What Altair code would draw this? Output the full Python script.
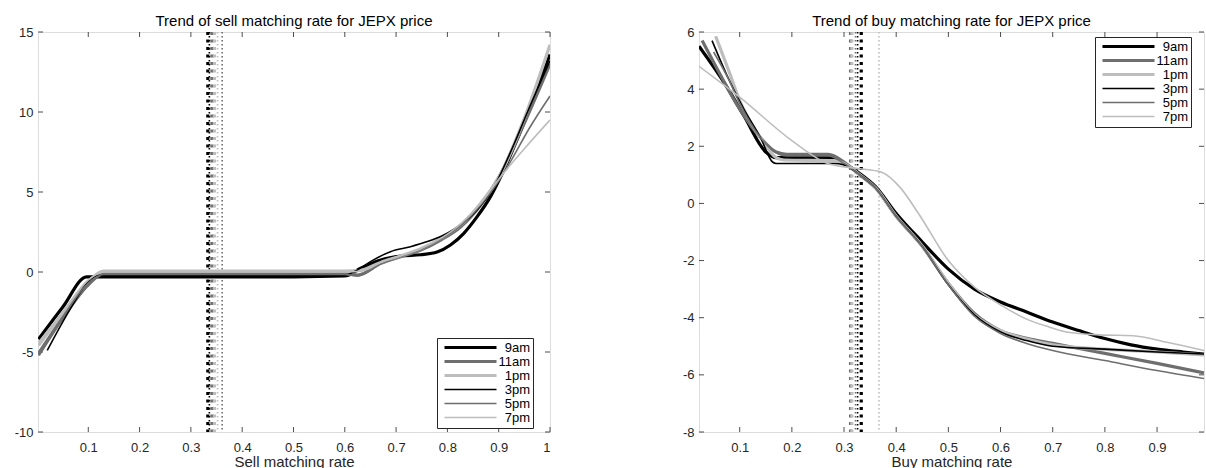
import altair as alt
import pandas as pd

SERIES = ["9am", "11am", "1pm", "3pm", "5pm", "7pm"]
COLORS = ["#000000", "#6e6e6e", "#bdbdbd", "#000000", "#6e6e6e", "#bdbdbd"]
WIDTHS = [3.2, 3.2, 3.2, 1.6, 1.6, 1.6]
DASHES = [[3, 4.5], [3, 4.5], [3, 4.5], [1.5, 2.5], [1.5, 2.5], [1.5, 2.5]]

# ---------------- Sell matching rate (left panel) ----------------
sell_x = {
    "9am": [0.003, 0.05, 0.097, 0.11, 0.3, 0.5, 0.6, 0.631, 0.67, 0.709, 0.748, 0.78, 0.806, 0.832, 0.858, 0.884, 0.91, 0.94, 0.97, 1.0],
    "11am": [0.003, 0.05, 0.1, 0.13, 0.3, 0.6, 0.625, 0.67, 0.709, 0.748, 0.787, 0.826, 0.865, 0.9, 0.95, 1.0],
    "1pm": [0.003, 0.05, 0.1, 0.13, 0.3, 0.6, 0.63, 0.67, 0.709, 0.748, 0.787, 0.826, 0.865, 0.9, 0.95, 1.0],
    "3pm": [0.02, 0.065, 0.1, 0.12, 0.3, 0.6, 0.62, 0.65, 0.689, 0.728, 0.761, 0.793, 0.826, 0.858, 0.891, 0.93, 0.96, 1.0],
    "5pm": [0.003, 0.05, 0.1, 0.13, 0.3, 0.6, 0.625, 0.67, 0.709, 0.748, 0.787, 0.826, 0.865, 0.9, 0.923, 0.96, 1.0],
    "7pm": [0.003, 0.05, 0.1, 0.13, 0.3, 0.6, 0.63, 0.67, 0.709, 0.748, 0.787, 0.826, 0.865, 0.9, 0.95, 1.0],
}
sell_y = {
    "9am": [-4.2, -2.2, -0.3, -0.3, -0.3, -0.3, -0.25, 0.23, 0.75, 1.0, 1.08, 1.25, 1.69, 2.42, 3.46, 4.71, 6.37, 8.6, 11.0, 13.6],
    "11am": [-5.2, -2.9, -0.8, -0.1, -0.1, -0.1, -0.2, 0.54, 0.96, 1.37, 2.0, 2.83, 4.19, 5.9, 9.3, 13.0],
    "1pm": [-4.6, -2.6, -0.6, 0.05, 0.05, 0.05, 0.1, 0.6, 1.0, 1.45, 2.1, 2.95, 4.3, 5.9, 9.6, 14.2],
    "3pm": [-4.9, -2.3, -0.6, -0.2, -0.2, -0.2, 0.05, 0.65, 1.27, 1.58, 1.9, 2.31, 2.94, 3.87, 5.33, 8.0, 10.3, 13.2],
    "5pm": [-5.0, -2.8, -0.7, -0.15, -0.15, -0.15, -0.25, 0.5, 0.95, 1.4, 2.05, 2.9, 4.2, 5.7, 6.9, 9.0, 11.0],
    "7pm": [-4.4, -2.5, -0.5, 0.0, 0.0, 0.0, 0.05, 0.6, 1.0, 1.45, 2.1, 3.0, 4.3, 5.8, 7.7, 9.5],
}
sell_vlines = [0.333, 0.341, 0.346, 0.336, 0.361, 0.352]
sell_xticks = [0.1, 0.2, 0.3, 0.4, 0.5, 0.6, 0.7, 0.8, 0.9, 1.0]
sell_yticks = [-10, -5, 0, 5, 10, 15]

# ---------------- Buy matching rate (right panel) ----------------
buy_x = {
    "9am": [0.022, 0.076, 0.108, 0.15, 0.17, 0.28, 0.3, 0.33, 0.36, 0.4, 0.45, 0.5, 0.55, 0.6, 0.65, 0.7, 0.75, 0.8, 0.85, 0.9, 0.95, 0.99],
    "11am": [0.028, 0.06, 0.1, 0.14, 0.17, 0.19, 0.27, 0.3, 0.33, 0.36, 0.4, 0.45, 0.5, 0.55, 0.6, 0.65, 0.7, 0.8, 0.9, 0.99],
    "1pm": [0.054, 0.08, 0.1, 0.14, 0.17, 0.185, 0.28, 0.3, 0.33, 0.36, 0.4, 0.45, 0.5, 0.55, 0.6, 0.65, 0.7, 0.8, 0.9, 0.99],
    "3pm": [0.047, 0.076, 0.108, 0.14, 0.163, 0.17, 0.28, 0.3, 0.33, 0.36, 0.4, 0.45, 0.5, 0.55, 0.6, 0.65, 0.7, 0.8, 0.9, 0.99],
    "5pm": [0.05, 0.08, 0.1, 0.14, 0.175, 0.19, 0.27, 0.3, 0.33, 0.36, 0.4, 0.45, 0.5, 0.55, 0.6, 0.65, 0.7, 0.8, 0.9, 0.99],
    "7pm": [0.022, 0.1, 0.2, 0.27, 0.328, 0.371, 0.407, 0.443, 0.5, 0.55, 0.6, 0.65, 0.694, 0.726, 0.79, 0.854, 0.919, 0.99],
}
buy_y = {
    "9am": [5.5, 4.06, 3.07, 1.8, 1.6, 1.6, 1.4, 1.05, 0.6, -0.35, -1.35, -2.3, -3.0, -3.45, -3.8, -4.15, -4.45, -4.73, -4.95, -5.1, -5.2, -5.27],
    "11am": [5.7, 4.6, 3.3, 2.3, 1.8, 1.72, 1.72, 1.45, 1.0, 0.55, -0.45, -1.5, -2.8, -3.85, -4.45, -4.72, -4.9, -5.25, -5.6, -5.93],
    "1pm": [5.85, 4.6, 3.6, 2.3, 1.6, 1.52, 1.5, 1.4, 1.0, 0.55, -0.45, -1.5, -2.8, -3.9, -4.45, -4.75, -4.95, -5.1, -5.2, -5.3],
    "3pm": [5.7, 4.47, 3.3, 2.3, 1.45, 1.4, 1.4, 1.35, 1.0, 0.55, -0.45, -1.5, -2.85, -3.9, -4.5, -4.8, -5.0, -5.1, -5.2, -5.27],
    "5pm": [5.3, 4.3, 3.5, 2.3, 1.72, 1.66, 1.66, 1.4, 1.0, 0.55, -0.45, -1.5, -2.85, -3.95, -4.55, -4.9, -5.15, -5.5, -5.85, -6.13],
    "7pm": [4.8, 3.72, 2.2, 1.39, 1.22, 1.1, 0.57, -0.36, -2.0, -2.93, -3.55, -4.05, -4.33, -4.5, -4.6, -4.63, -4.86, -5.15],
}
buy_vlines = [0.333, 0.3125, 0.315, 0.326, 0.322, 0.367]
buy_xticks = [0.1, 0.2, 0.3, 0.4, 0.5, 0.6, 0.7, 0.8, 0.9]
buy_yticks = [-8, -6, -4, -2, 0, 2, 4, 6]

FONT = "Liberation Sans"
AXIS_COLOR = "#4d4d4d"
TEXT_COLOR = "#262626"
H = 400
LEGEND_LINE = "M-5.2,0H5.2"
WIDTH_OF = dict(zip(SERIES, WIDTHS))
THICK = [s for s, w in zip(SERIES, WIDTHS) if w == max(WIDTHS)]
THICK_EXPR = "indexof([" + ",".join("'%s'" % s for s in THICK) + "], datum.value) >= 0 ? %g : %g" % (
    max(WIDTHS), min(WIDTHS))


def long_table(xs, ys):
    rows = []
    for s in SERIES:
        for xv, yv in zip(xs[s], ys[s]):
            rows.append({"series": s, "x": xv, "y": yv, "w": WIDTH_OF[s]})
    return pd.DataFrame(rows)


def panel(title, xlabel, xs, ys, vlines, xdom, ydom, xticks, yticks, W, legx, legy):
    xscale = alt.Scale(domain=xdom, nice=False, zero=False)
    yscale = alt.Scale(domain=ydom, nice=False, zero=False)
    legend = alt.Legend(
        title=None, orient="none", legendX=legx, legendY=legy,
        symbolType=LEGEND_LINE, symbolSize=100, labelAlign="right", labelOffset=53,
        labelFontSize=13, labelFont=FONT, labelColor="#000000",
        strokeColor="#262626", fillColor="#ffffff", padding=3,
        rowPadding=0, symbolOffset=24,
        symbolStrokeWidth=alt.ExprRef(expr=THICK_EXPR),
    )
    xaxis = alt.Axis(values=xticks, format="~g", title=xlabel, ticks=False, domain=False,
                     grid=False, labelPadding=9, labelFontSize=13, labelColor=TEXT_COLOR,
                     titleFontSize=15, titleFontWeight="normal", titleColor=TEXT_COLOR,
                     titlePadding=0, labelFont=FONT, titleFont=FONT)
    yaxis = alt.Axis(values=yticks, labelExpr="replace(datum.label, '\u2212', '-')", title=None,
                     ticks=False, domain=False, grid=False, labelPadding=5, labelFontSize=13,
                     labelColor=TEXT_COLOR, labelFont=FONT, minExtent=32, maxExtent=32)

    lines = alt.Chart(long_table(xs, ys)).mark_line(interpolate="monotone", clip=True).encode(
        x=alt.X("x:Q", scale=xscale, axis=xaxis),
        y=alt.Y("y:Q", scale=yscale, axis=yaxis),
        color=alt.Color("series:N", scale=alt.Scale(domain=SERIES, range=COLORS), legend=legend),
        strokeWidth=alt.StrokeWidth("w:Q", scale=None),
        detail="series:N",
        order=alt.Order("x:Q"),
    )

    layers = []
    for i, s in enumerate(SERIES):
        layers.append(
            alt.Chart(pd.DataFrame({"x": [vlines[i]]})).mark_rule(
                color=COLORS[i], strokeWidth=WIDTHS[i], strokeDash=DASHES[i]
            ).encode(x=alt.X("x:Q", scale=xscale, axis=xaxis))
        )

    xt = pd.DataFrame({"x": xticks})
    yt = pd.DataFrame({"y": yticks})
    tick_bottom = alt.Chart(xt).mark_rule(color=AXIS_COLOR, strokeWidth=1).encode(
        x=alt.X("x:Q", scale=xscale, axis=xaxis), y=alt.value(H), y2=alt.value(H - 5))
    tick_top = alt.Chart(xt).mark_rule(color=AXIS_COLOR, strokeWidth=1).encode(
        x=alt.X("x:Q", scale=xscale, axis=xaxis), y=alt.value(0), y2=alt.value(5))
    tick_left = alt.Chart(yt).mark_rule(color=AXIS_COLOR, strokeWidth=1).encode(
        y=alt.Y("y:Q", scale=yscale, axis=yaxis), x=alt.value(0), x2=alt.value(5))
    tick_right = alt.Chart(yt).mark_rule(color=AXIS_COLOR, strokeWidth=1).encode(
        y=alt.Y("y:Q", scale=yscale, axis=yaxis), x=alt.value(W), x2=alt.value(W - 5))

    return alt.layer(tick_bottom, tick_top, tick_left, tick_right, *layers, lines).properties(
        width=W, height=H,
        title=alt.TitleParams(title, fontSize=15, fontWeight="normal", font=FONT, color="#000000", offset=-3),
    )


left = panel("Trend of sell matching rate for JEPX price", "Sell matching rate",
             sell_x, sell_y, sell_vlines, [0.002, 1.0], [-10, 15], sell_xticks, sell_yticks,
             512, 399, 306)
right = panel("Trend of buy matching rate for JEPX price", "Buy matching rate",
              buy_x, buy_y, buy_vlines, [0.022, 0.99], [-8, 6], buy_xticks, buy_yticks,
              505, 396, 5)

chart = alt.hconcat(left, right, spacing=115).resolve_scale(
    color="independent"
).resolve_legend(color="independent").properties(
    padding={"left": 5, "top": 13, "right": 0, "bottom": 0}
).configure_view(stroke=AXIS_COLOR, strokeWidth=1).configure(font=FONT)

chart.save("out.html", embed_options={"renderer": "svg", "actions": False})
